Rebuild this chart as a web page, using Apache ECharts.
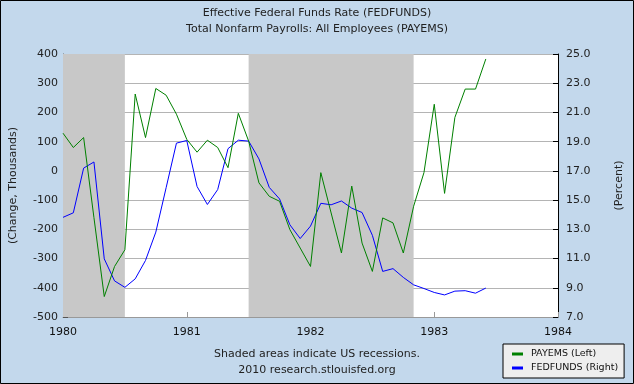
<!DOCTYPE html>
<html><head><meta charset="utf-8">
<script src="https://cdn.jsdelivr.net/npm/echarts@6/dist/echarts.min.js"></script>
<style>html,body{margin:0;padding:0;background:#c3d8ec}#c{width:634px;height:384px}</style>
</head><body><div id="c"></div>
<script>
var titleLines = ['Effective Federal Funds Rate (FEDFUNDS)', 'Total Nonfarm Payrolls: All Employees (PAYEMS)'];
var footerLines = ['Shaded areas indicate US recessions.', '2010 research.stlouisfed.org'];
var months = ['1980-01','1980-02','1980-03','1980-04','1980-05','1980-06','1980-07','1980-08','1980-09','1980-10','1980-11','1980-12',
  '1981-01','1981-02','1981-03','1981-04','1981-05','1981-06','1981-07','1981-08','1981-09','1981-10','1981-11','1981-12',
  '1982-01','1982-02','1982-03','1982-04','1982-05','1982-06','1982-07','1982-08','1982-09','1982-10','1982-11','1982-12',
  '1983-01','1983-02','1983-03','1983-04','1983-05','1983-06'];
var payems = [129, 80, 114, -160, -430, -327, -270, 263, 114, 282, 259, 194,
  108, 64, 105, 80, 11, 197, 102, -41, -87, -104, -201, -264,
  -327, -6, -144, -281, -52, -247, -344, -161, -178, -281, -121, -6,
  228, -77, 183, 280, 280, 383];
var fedfunds = [13.82, 14.13, 17.19, 17.61, 10.98, 9.47, 9.03, 9.61, 10.87, 12.81, 15.85, 18.90,
  19.08, 15.93, 14.70, 15.72, 18.52, 19.10, 19.04, 17.82, 15.87, 15.08, 13.31, 12.37,
  13.22, 14.78, 14.68, 14.94, 14.45, 14.15, 12.59, 10.12, 10.31, 9.71, 9.20, 8.95,
  8.68, 8.51, 8.77, 8.80, 8.63, 8.98];
var recessions = [['1980-01', '1980-07'], ['1981-07', '1982-11']];
var xTicks = [1980, 1981, 1982, 1983, 1984];
var leftTicks = {min: -500, max: 400, interval: 100};
var rightTicks = {min: 7, max: 25, interval: 2};

function toYear(m) { var p = m.split('-'); return +p[0] + (+p[1] - 1) / 12; }
var payData = months.map(function (m, i) { return [toYear(m), payems[i]]; });
var ffData = months.map(function (m, i) { return [toYear(m), fedfunds[i]]; });
var recAreas = recessions.map(function (r) { return [{xAxis: toYear(r[0])}, {xAxis: toYear(r[1])}]; });

var FONT = 'DejaVu Sans';
var chart = echarts.init(document.getElementById('c'), null, {renderer: 'canvas'});
chart.setOption({
  backgroundColor: '#c3d8ec',
  animation: false,
  textStyle: {fontFamily: FONT},
  grid: {left: 62, right: 76, top: 54, bottom: 67, show: true, backgroundColor: '#ffffff', borderWidth: 0},
  xAxis: {
    type: 'value', min: xTicks[0], max: xTicks[xTicks.length - 1], interval: 1,
    axisLine: {onZero: false, lineStyle: {color: '#999999'}},
    axisTick: {inside: true, length: 5, lineStyle: {color: '#999999'}},
    axisLabel: {color: '#111', fontSize: 11, fontFamily: FONT, margin: 10, formatter: function (v) { return String(v); }},
    splitLine: {show: false}
  },
  yAxis: [{
    type: 'value', position: 'left', min: leftTicks.min, max: leftTicks.max, interval: leftTicks.interval,
    name: '(Change, Thousands)', nameLocation: 'middle', nameGap: 44, nameRotate: 90,
    nameTextStyle: {color: '#222', fontSize: 11, fontFamily: FONT},
    axisLine: {show: true, lineStyle: {color: '#555555'}},
    axisTick: {show: true, inside: true, length: 5, lineStyle: {color: '#555555'}},
    axisLabel: {color: '#222', fontSize: 11, fontFamily: FONT, margin: 5},
    splitLine: {show: true, lineStyle: {color: '#b4b4b4', width: 1}}
  }, {
    type: 'value', position: 'right', min: rightTicks.min, max: rightTicks.max, interval: rightTicks.interval,
    name: '(Percent)', nameLocation: 'middle', nameGap: 56, nameRotate: 90,
    nameTextStyle: {color: '#222', fontSize: 11, fontFamily: FONT},
    axisLine: {show: true, lineStyle: {color: '#000000'}},
    axisTick: {show: true, inside: true, length: 5, lineStyle: {color: '#000000'}},
    axisLabel: {color: '#222', fontSize: 11, fontFamily: FONT, margin: 8, formatter: function (v) { return v.toFixed(1); }},
    splitLine: {show: false}
  }],
  legend: {
    orient: 'vertical', left: 503, top: 344,
    backgroundColor: '#eeeeee', borderColor: '#000000', borderWidth: 1, borderRadius: 0,
    padding: [5, 6, 5, 9], itemGap: 4, itemWidth: 11, itemHeight: 3, icon: 'rect',
    textStyle: {fontSize: 9.5, fontFamily: FONT, color: '#111', padding: [0, 0, 0, 3]},
    data: ['PAYEMS (Left)', 'FEDFUNDS (Right)']
  },
  graphic: [
    {type: 'text', left: 'center', top: 8, style: {text: titleLines[0], font: '11px "DejaVu Sans"', fill: '#222'}},
    {type: 'text', left: 'center', top: 24, style: {text: titleLines[1], font: '11px "DejaVu Sans"', fill: '#222'}},
    {type: 'text', left: 'center', top: 349, style: {text: footerLines[0], font: '11px "DejaVu Sans"', fill: '#222'}},
    {type: 'text', left: 'center', top: 365, style: {text: footerLines[1], font: '11px "DejaVu Sans"', fill: '#222'}},
    {type: 'rect', silent: true, z: 100, shape: {x: 0.5, y: 0.5, width: 633, height: 383}, style: {fill: 'none', stroke: '#000', lineWidth: 1}}
  ],
  series: [{
    name: 'PAYEMS (Left)', type: 'line', yAxisIndex: 0, data: payData, showSymbol: false,
    lineStyle: {color: '#008000', width: 1}, itemStyle: {color: '#008000'}, z: 3,
    markArea: {silent: true, itemStyle: {color: '#c8c8c8', opacity: 1}, data: recAreas}
  }, {
    name: 'FEDFUNDS (Right)', type: 'line', yAxisIndex: 1, data: ffData, showSymbol: false,
    lineStyle: {color: '#0000ff', width: 1}, itemStyle: {color: '#0000ff'}, z: 2
  }]
});
</script></body></html>
